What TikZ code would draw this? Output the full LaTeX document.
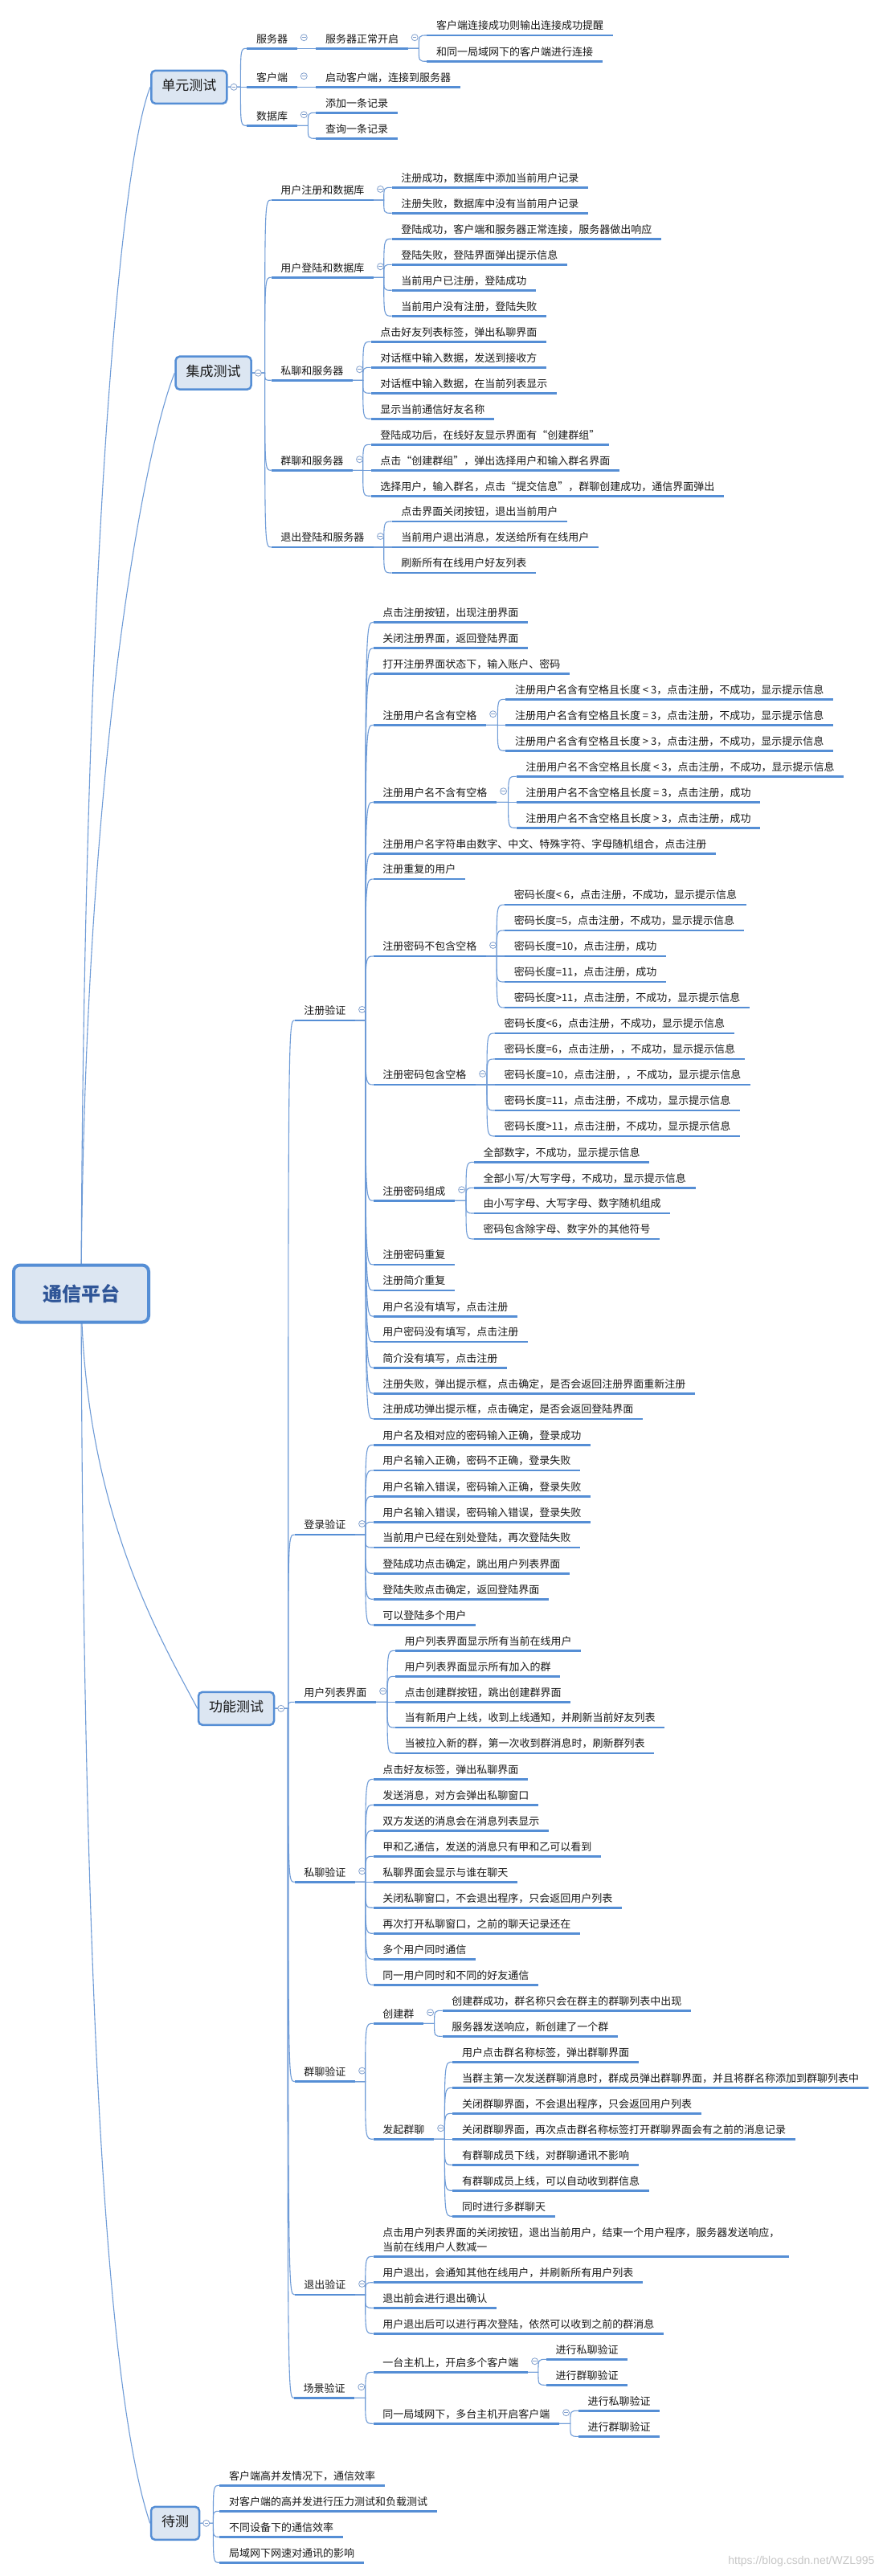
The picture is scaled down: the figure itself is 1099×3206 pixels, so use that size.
\documentclass[tikz,border=0pt]{standalone}
\usepackage{fontspec}
\newfontfamily\cjk{Noto Sans CJK SC}
\newfontfamily\wmfont{Liberation Sans}
\usetikzlibrary{calc}
\definecolor{ublue}{RGB}{85,142,213}
\definecolor{lblue}{RGB}{110,155,215}
\definecolor{boxfill}{RGB}{220,230,242}
\definecolor{foldc}{RGB}{130,160,205}
\definecolor{txt}{RGB}{25,25,25}
\definecolor{rootc}{RGB}{47,85,151}
\tikzset{
 leaf/.style={anchor=south west, inner xsep=11.5pt, inner ysep=4pt, text height=11pt, text depth=3pt, font=\cjk\fontsize{13pt}{15pt}\selectfont, text=txt},
 uline/.style={draw=ublue, line width=2.6pt},
 conn/.style={draw=lblue, line width=1.1pt},
 lvlone/.style={draw=ublue, line width=2.5pt, fill=boxfill, rounded corners=5pt, inner xsep=13pt, inner ysep=0pt, minimum height=41pt, text height=12.5pt, text depth=3.5pt, font=\cjk\fontsize{17pt}{20pt}\selectfont, text=txt},
 rootbox/.style={draw=ublue, line width=4pt, fill=boxfill, rounded corners=8pt, minimum width=168pt, minimum height=71pt, font=\cjk\bfseries\fontsize{24pt}{28pt}\selectfont, text=rootc},
 fold/.style={circle, draw=foldc, fill=white, line width=0.8pt, inner sep=0pt, minimum size=8pt, path picture={\draw[foldc, line width=0.8pt] ([xshift=-2.2pt]path picture bounding box.center) -- ([xshift=2.2pt]path picture bounding box.center);}},
 wm/.style={font=\wmfont\fontsize{14pt}{16pt}\selectfont, text=black!22}
}
\newcommand\mmleaf[4]{\node[leaf] (#1) at (#2,#3) {#4};\draw[uline] (#1.south west) -- (#1.south east);}
\newcommand\mmconn[2]{\draw[conn] let \p1=(#1.south east), \p2=(#2.south west) in (\p1) -- (\x2-10pt,\y1) .. controls (\x2-10pt,\y2) .. (\p2);}
\newcommand\mmconnb[2]{\draw[conn] let \p1=(#1.east), \p2=(#2.south west) in (\p1) -- (\x2-8pt,\y1) .. controls (\x2-8pt,\y2) .. (\p2);}
\newcommand\mmfold[1]{\node[fold] (k#1) at ($(#1.south east)+(8.5,-13.6)$) {};}
\newcommand\mmfoldb[1]{\node[fold] (k#1) at ($(#1.east)+(7.5,0)$) {};}
\begin{document}
\begin{tikzpicture}[x=1pt,y=-1pt]
\useasboundingbox (0,0) rectangle (1099,3206);
\fill[white] (0,0) rectangle (1099,3206);
% ---------- level 1 boxes
\node[lvlone] (U) at (235.3,108.3) {单元测试};
\node[lvlone] (I) at (265.6,464.2) {集成测试};
\node[lvlone] (F) at (294,2126.3) {功能测试};
\node[lvlone] (T) at (218,3140.3) {待测};
% ---------- 单元测试
\mmleaf{U1}{307.4}{60.3}{服务器}
\mmleaf{U11}{393.3}{60.3}{服务器正常开启}
\mmleaf{U111}{531.3}{44}{客户端连接成功则输出连接成功提醒}
\mmleaf{U112}{531.3}{76.3}{和同一局域网下的客户端进行连接}
\mmleaf{U2}{307.4}{108.3}{客户端}
\mmleaf{U21}{393.3}{108.3}{启动客户端，连接到服务器}
\mmleaf{U3}{307.4}{156.3}{数据库}
\mmleaf{U31}{393.3}{140.3}{添加一条记录}
\mmleaf{U32}{393.3}{172.3}{查询一条记录}
% ---------- 集成测试
\mmleaf{I1}{337.6}{249}{用户注册和数据库}
\mmleaf{I11}{487.7}{233.3}{注册成功，数据库中添加当前用户记录}
\mmleaf{I12}{487.7}{265.3}{注册失败，数据库中没有当前用户记录}
\mmleaf{I2}{337.6}{345.3}{用户登陆和数据库}
\mmleaf{I21}{487.7}{297.3}{登陆成功，客户端和服务器正常连接，服务器做出响应}
\mmleaf{I22}{487.7}{329.3}{登陆失败，登陆界面弹出提示信息}
\mmleaf{I23}{487.7}{361.3}{当前用户已注册，登陆成功}
\mmleaf{I24}{487.7}{393.3}{当前用户没有注册，登陆失败}
\mmleaf{I3}{337.6}{473.3}{私聊和服务器}
\mmleaf{I31}{461.7}{425.3}{点击好友列表标签，弹出私聊界面}
\mmleaf{I32}{461.7}{457.3}{对话框中输入数据，发送到接收方}
\mmleaf{I33}{461.7}{489.3}{对话框中输入数据，在当前列表显示}
\mmleaf{I34}{461.7}{521.3}{显示当前通信好友名称}
\mmleaf{I4}{337.6}{585.3}{群聊和服务器}
\mmleaf{I41}{461.7}{553.3}{登陆成功后，在线好友显示界面有“创建群组”}
\mmleaf{I42}{461.7}{585.3}{点击“创建群组”，弹出选择用户和输入群名界面}
\mmleaf{I43}{461.7}{617.3}{选择用户，输入群名，点击“提交信息”，群聊创建成功，通信界面弹出}
\mmleaf{I5}{337.6}{681}{退出登陆和服务器}
\mmleaf{I51}{487.7}{649}{点击界面关闭按钮，退出当前用户}
\mmleaf{I52}{487.7}{681}{当前用户退出消息，发送给所有在线用户}
\mmleaf{I53}{487.7}{713}{刷新所有在线用户好友列表}
% ---------- 功能测试 : 注册验证
\mmleaf{F1}{366.7}{1270}{注册验证}
\mmleaf{F11}{464.7}{774.3}{点击注册按钮，出现注册界面}
\mmleaf{F12}{464.7}{806.7}{关闭注册界面，返回登陆界面}
\mmleaf{F13}{464.7}{838.3}{打开注册界面状态下，输入账户、密码}
\mmleaf{F14}{464.7}{902.3}{注册用户名含有空格}
\mmleaf{F141}{629.3}{870.3}{注册用户名含有空格且长度 < 3，点击注册，不成功，显示提示信息}
\mmleaf{F142}{629.3}{902.3}{注册用户名含有空格且长度 = 3，点击注册，不成功，显示提示信息}
\mmleaf{F143}{629.3}{934.3}{注册用户名含有空格且长度 > 3，点击注册，不成功，显示提示信息}
\mmleaf{F15}{464.7}{998.3}{注册用户名不含有空格}
\mmleaf{F151}{642.6}{966.3}{注册用户名不含空格且长度 < 3，点击注册，不成功，显示提示信息}
\mmleaf{F152}{642.6}{998.3}{注册用户名不含空格且长度 = 3，点击注册，成功}
\mmleaf{F153}{642.6}{1030.3}{注册用户名不含空格且长度 > 3，点击注册，成功}
\mmleaf{F16}{464.7}{1062.3}{注册用户名字符串由数字、中文、特殊字符、字母随机组合，点击注册}
\mmleaf{F17}{464.7}{1094}{注册重复的用户}
\mmleaf{F18}{464.7}{1190}{注册密码不包含空格}
\mmleaf{F181}{628.1}{1126}{密码长度< 6，点击注册，不成功，显示提示信息}
\mmleaf{F182}{628.1}{1158}{密码长度=5，点击注册，不成功，显示提示信息}
\mmleaf{F183}{628.1}{1190}{密码长度=10，点击注册，成功}
\mmleaf{F184}{628.1}{1222}{密码长度=11，点击注册，成功}
\mmleaf{F185}{628.1}{1254}{密码长度>11，点击注册，不成功，显示提示信息}
\mmleaf{F19}{464.7}{1350}{注册密码包含空格}
\mmleaf{F191}{616}{1286}{密码长度<6，点击注册，不成功，显示提示信息}
\mmleaf{F192}{616}{1318}{密码长度=6，点击注册，，不成功，显示提示信息}
\mmleaf{F193}{616}{1350}{密码长度=10，点击注册，，不成功，显示提示信息}
\mmleaf{F194}{616}{1382}{密码长度=11，点击注册，不成功，显示提示信息}
\mmleaf{F195}{616}{1414}{密码长度>11，点击注册，不成功，显示提示信息}
\mmleaf{F1A}{464.7}{1494.3}{注册密码组成}
\mmleaf{F1A1}{590}{1446.3}{全部数字，不成功，显示提示信息}
\mmleaf{F1A2}{590}{1478.3}{全部小写/大写字母，不成功，显示提示信息}
\mmleaf{F1A3}{590}{1510}{由小写字母、大写字母、数字随机组成}
\mmleaf{F1A4}{590}{1542}{密码包含除字母、数字外的其他符号}
\mmleaf{F1B}{464.7}{1574}{注册密码重复}
\mmleaf{F1C}{464.7}{1606}{注册简介重复}
\mmleaf{F1D}{464.7}{1638.3}{用户名没有填写，点击注册}
\mmleaf{F1E}{464.7}{1670}{用户密码没有填写，点击注册}
\mmleaf{F1F}{464.7}{1702.3}{简介没有填写，点击注册}
\mmleaf{F1G}{464.7}{1734.3}{注册失败，弹出提示框，点击确定，是否会返回注册界面重新注册}
\mmleaf{F1H}{464.7}{1766}{注册成功弹出提示框，点击确定，是否会返回登陆界面}
% ---------- 登录验证
\mmleaf{F2}{366.7}{1910}{登录验证}
\mmleaf{F21}{464.7}{1798.3}{用户名及相对应的密码输入正确，登录成功}
\mmleaf{F22}{464.7}{1830}{用户名输入正确，密码不正确，登录失败}
\mmleaf{F23}{464.7}{1862.3}{用户名输入错误，密码输入正确，登录失败}
\mmleaf{F24}{464.7}{1894.3}{用户名输入错误，密码输入错误，登录失败}
\mmleaf{F25}{464.7}{1926}{当前用户已经在别处登陆，再次登陆失败}
\mmleaf{F26}{464.7}{1958.3}{登陆成功点击确定，跳出用户列表界面}
\mmleaf{F27}{464.7}{1990.3}{登陆失败点击确定，返回登陆界面}
\mmleaf{F28}{464.7}{2022.3}{可以登陆多个用户}
% ---------- 用户列表界面
\mmleaf{F3}{366.7}{2118.3}{用户列表界面}
\mmleaf{F31}{492}{2054.3}{用户列表界面显示所有当前在线用户}
\mmleaf{F32}{492}{2086.3}{用户列表界面显示所有加入的群}
\mmleaf{F33}{492}{2118.3}{点击创建群按钮，跳出创建群界面}
\mmleaf{F34}{492}{2150}{当有新用户上线，收到上线通知，并刷新当前好友列表}
\mmleaf{F35}{492}{2182}{当被拉入新的群，第一次收到群消息时，刷新群列表}
% ---------- 私聊验证
\mmleaf{F4}{366.7}{2342.3}{私聊验证}
\mmleaf{F41}{464.7}{2214.3}{点击好友标签，弹出私聊界面}
\mmleaf{F42}{464.7}{2246.3}{发送消息，对方会弹出私聊窗口}
\mmleaf{F43}{464.7}{2278.3}{双方发送的消息会在消息列表显示}
\mmleaf{F44}{464.7}{2310.3}{甲和乙通信，发送的消息只有甲和乙可以看到}
\mmleaf{F45}{464.7}{2342.3}{私聊界面会显示与谁在聊天}
\mmleaf{F46}{464.7}{2374.3}{关闭私聊窗口，不会退出程序，只会返回用户列表}
\mmleaf{F47}{464.7}{2406.3}{再次打开私聊窗口，之前的聊天记录还在}
\mmleaf{F48}{464.7}{2438.3}{多个用户同时通信}
\mmleaf{F49}{464.7}{2470.3}{同一用户同时和不同的好友通信}
% ---------- 群聊验证
\mmleaf{F5}{366.7}{2590.7}{群聊验证}
\mmleaf{F51}{464.7}{2518.3}{创建群}
\mmleaf{F511}{550.6}{2502.3}{创建群成功，群名称只会在群主的群聊列表中出现}
\mmleaf{F512}{550.6}{2534.3}{服务器发送响应，新创建了一个群}
\mmleaf{F52}{464.7}{2662.3}{发起群聊}
\mmleaf{F521}{563.3}{2566.3}{用户点击群名称标签，弹出群聊界面}
\mmleaf{F522}{563.3}{2598.3}{当群主第一次发送群聊消息时，群成员弹出群聊界面，并且将群名称添加到群聊列表中}
\mmleaf{F523}{563.3}{2630.3}{关闭群聊界面，不会退出程序，只会返回用户列表}
\mmleaf{F524}{563.3}{2662.3}{关闭群聊界面，再次点击群名称标签打开群聊界面会有之前的消息记录}
\mmleaf{F525}{563.3}{2694.3}{有群聊成员下线，对群聊通讯不影响}
\mmleaf{F526}{563.3}{2726.3}{有群聊成员上线，可以自动收到群信息}
\mmleaf{F527}{563.3}{2758.3}{同时进行多群聊天}
% ---------- 退出验证
\mmleaf{F6}{366.7}{2856}{退出验证}
\node[leaf, text height=29pt] (F61) at (464.7,2808.3) {\vbox{\baselineskip=18pt\hbox{点击用户列表界面的关闭按钮，退出当前用户，结束一个用户程序，服务器发送响应，}\hbox{当前在线用户人数减一}}};
\draw[uline] (F61.south west) -- (F61.south east);
\mmleaf{F62}{464.7}{2840.7}{用户退出，会通知其他在线用户，并刷新所有用户列表}
\mmleaf{F63}{464.7}{2872.3}{退出前会进行退出确认}
\mmleaf{F64}{464.7}{2904.3}{用户退出后可以进行再次登陆，依然可以收到之前的群消息}
% ---------- 场景验证
\mmleaf{F7}{365.9}{2984.3}{场景验证}
\mmleaf{F71}{464.7}{2952.3}{一台主机上，开启多个客户端}
\mmleaf{F711}{679.9}{2936.3}{进行私聊验证}
\mmleaf{F712}{679.9}{2968.3}{进行群聊验证}
\mmleaf{F72}{464.7}{3016.3}{同一局域网下，多台主机开启客户端}
\mmleaf{F721}{719.8}{3000.3}{进行私聊验证}
\mmleaf{F722}{719.8}{3032.3}{进行群聊验证}
% ---------- 待测
\mmleaf{T1}{273.4}{3093.3}{客户端高并发情况下，通信效率}
\mmleaf{T2}{273.4}{3125.3}{对客户端的高并发进行压力测试和负载测试}
\mmleaf{T3}{273.4}{3157.3}{不同设备下的通信效率}
\mmleaf{T4}{273.4}{3189.3}{局域网下网速对通讯的影响}
% ---------- connectors
\foreach \c in {U1,U2,U3} {\mmconnb{U}{\c}}
\mmconn{U1}{U11}
\foreach \c in {U111,U112} {\mmconn{U11}{\c}}
\mmconn{U2}{U21}
\foreach \c in {U31,U32} {\mmconn{U3}{\c}}
\foreach \c in {I1,I2,I3,I4,I5} {\mmconnb{I}{\c}}
\foreach \c in {I11,I12} {\mmconn{I1}{\c}}
\foreach \c in {I21,I22,I23,I24} {\mmconn{I2}{\c}}
\foreach \c in {I31,I32,I33,I34} {\mmconn{I3}{\c}}
\foreach \c in {I41,I42,I43} {\mmconn{I4}{\c}}
\foreach \c in {I51,I52,I53} {\mmconn{I5}{\c}}
\foreach \c in {F1,F2,F3,F4,F5,F6,F7} {\mmconnb{F}{\c}}
\foreach \c in {F11,F12,F13,F14,F15,F16,F17,F18,F19,F1A,F1B,F1C,F1D,F1E,F1F,F1G,F1H} {\mmconn{F1}{\c}}
\foreach \c in {F141,F142,F143} {\mmconn{F14}{\c}}
\foreach \c in {F151,F152,F153} {\mmconn{F15}{\c}}
\foreach \c in {F181,F182,F183,F184,F185} {\mmconn{F18}{\c}}
\foreach \c in {F191,F192,F193,F194,F195} {\mmconn{F19}{\c}}
\foreach \c in {F1A1,F1A2,F1A3,F1A4} {\mmconn{F1A}{\c}}
\foreach \c in {F21,F22,F23,F24,F25,F26,F27,F28} {\mmconn{F2}{\c}}
\foreach \c in {F31,F32,F33,F34,F35} {\mmconn{F3}{\c}}
\foreach \c in {F41,F42,F43,F44,F45,F46,F47,F48,F49} {\mmconn{F4}{\c}}
\foreach \c in {F51,F52} {\mmconn{F5}{\c}}
\foreach \c in {F511,F512} {\mmconn{F51}{\c}}
\foreach \c in {F521,F522,F523,F524,F525,F526,F527} {\mmconn{F52}{\c}}
\foreach \c in {F61,F62,F63,F64} {\mmconn{F6}{\c}}
\foreach \c in {F71,F72} {\mmconn{F7}{\c}}
\foreach \c in {F711,F712} {\mmconn{F71}{\c}}
\foreach \c in {F721,F722} {\mmconn{F72}{\c}}
\foreach \c in {T1,T2,T3,T4} {\mmconnb{T}{\c}}
% ---------- root and its connectors
\coordinate (rc) at (101,1610);
\draw[conn] (rc) .. controls (104,700) and (150,200) .. (U.west);
\draw[conn] (rc) .. controls (104,950) and (180,556) .. (I.west);
\draw[conn] (rc) .. controls (104,1880) and (200,2040) .. (F.west);
\draw[conn] (rc) .. controls (104,2600) and (140,3000) .. (T.west);
\node[rootbox] (R) at (rc) {通信平台};
% ---------- fold markers
\foreach \c in {U,I,F,T} {\mmfoldb{\c}}
\foreach \c in {U1,U11,U2,U3,I1,I2,I3,I4,I5,F1,F14,F15,F18,F19,F1A,F2,F3,F4,F5,F51,F52,F6,F7,F71,F72} {\mmfold{\c}}
% ---------- watermark
\node[wm, anchor=east] (wmk) at (1092,3188) {https://blog.csdn.net/WZL995};
\end{tikzpicture}
\end{document}
